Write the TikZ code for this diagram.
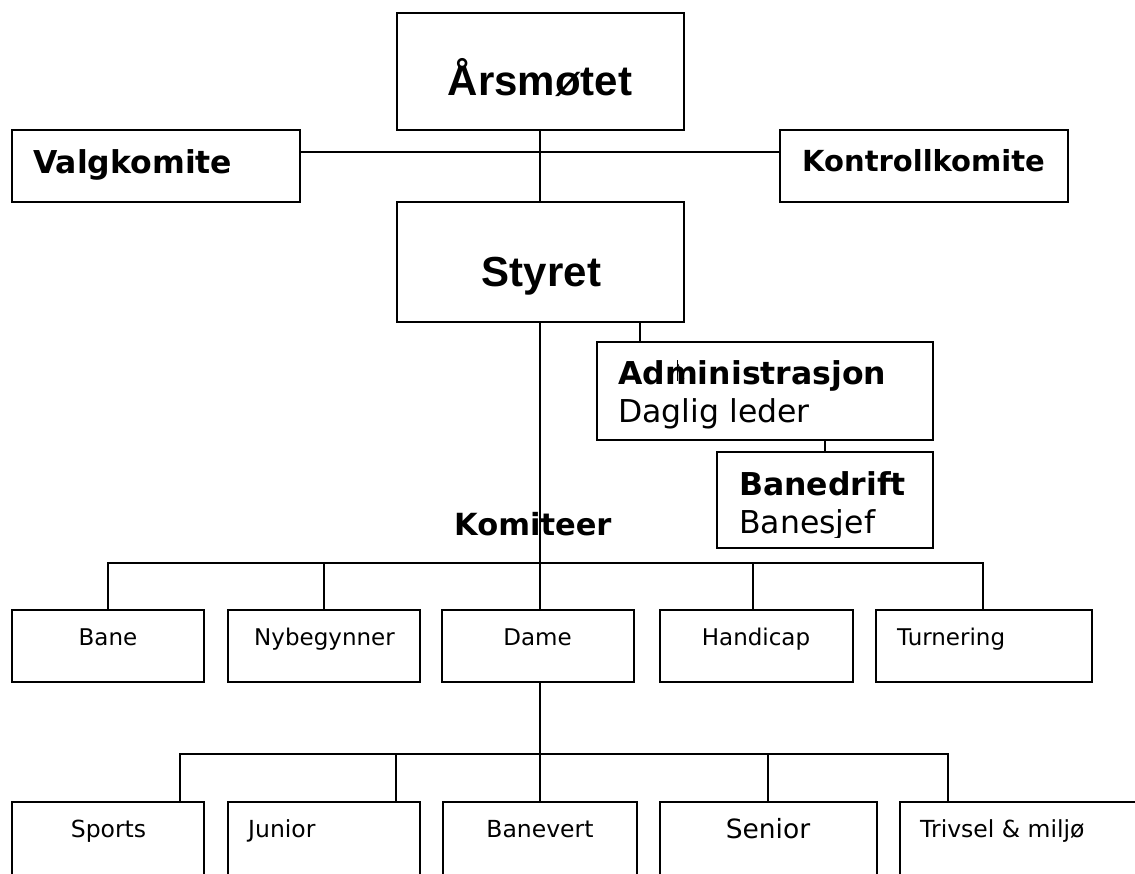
\documentclass[tikz,border=0pt]{standalone}
\usepackage{fontspec}
\setmainfont{DejaVu Sans}
\newfontfamily\arialfont{Liberation Sans}
\begin{document}
\begin{tikzpicture}[x=1pt,y=-1pt,
  box/.style={draw, line width=1.5pt, inner sep=0pt, outer sep=0pt},
  conn/.style={line width=1.2pt},
  big/.style={font=\arialfont\bfseries\fontsize{42}{50}\selectfont, inner sep=0pt},
  head/.style={font=\bfseries\fontsize{31.5}{38}\selectfont, inner sep=0pt},
  sub/.style={font=\fontsize{31.5}{38}\selectfont, inner sep=0pt},
  lab/.style={font=\fontsize{23}{28}\selectfont, inner sep=0pt},
  labb/.style={font=\fontsize{23.5}{28}\selectfont, inner sep=0pt}]
\clip (0,0) rectangle (1135,873);
\fill[white] (0,0) rectangle (1135,873);

% boxes
\node[box, minimum width=287pt, minimum height=117pt] (aars) at (540.5,71.5) {};
\node[box, minimum width=288pt, minimum height=72pt] (valg) at (156,166) {};
\node[box, minimum width=288pt, minimum height=72pt] (kontroll) at (924,166) {};
\node[box, minimum width=287pt, minimum height=120pt] (styret) at (540.5,262) {};
\node[box, minimum width=336pt, minimum height=98pt] (admin) at (765,391) {};
\node[box, minimum width=216pt, minimum height=96pt] (banedrift) at (825,500) {};
\node[box, minimum width=192pt, minimum height=72pt] (bane) at (108,646) {};
\node[box, minimum width=192pt, minimum height=72pt] (nyb) at (324,646) {};
\node[box, minimum width=192pt, minimum height=72pt] (dame) at (538,646) {};
\node[box, minimum width=193pt, minimum height=72pt] (handicap) at (756.5,646) {};
\node[box, minimum width=216pt, minimum height=72pt] (turn) at (984,646) {};
\node[box, minimum width=192pt, minimum height=120pt] (sports) at (108,862) {};
\node[box, minimum width=192pt, minimum height=120pt] (junior) at (324,862) {};
\node[box, minimum width=194pt, minimum height=120pt] (banevert) at (540,862) {};
\node[box, minimum width=217pt, minimum height=120pt] (senior) at (768.5,862) {};
\node[box, minimum width=260pt, minimum height=120pt] (trivsel) at (1030,862) {};

% texts
\node[big, anchor=base] (taars) at (540,95) {Årsmøtet};
\node[big, anchor=base] (tstyret) at (541.5,286) {Styret};
\node[head, anchor=base west] (tvalg) at (33,173) {Valgkomite};
\node[head, anchor=base west, font=\bfseries\fontsize{29}{35}\selectfont] (tkontroll) at (802,171) {Kontrollkomite};
\node[head, anchor=base west] (tadmin) at (618,384) {Administrasjon};
\node[sub, anchor=base west] (tdaglig) at (618,422) {Daglig leder};
\node[head, anchor=base west] (tbanedrift) at (739,495) {Banedrift};
\begin{scope}
  \clip (717,452) rectangle (933,537);
  \node[sub, anchor=base west] (tbanesjef) at (739,533) {Banesjef};
\end{scope}
\node[head, anchor=base west, font=\bfseries\fontsize{30.5}{36}\selectfont] (tkomiteer) at (454,535) {Komiteer};

\node[lab, anchor=base] (tbane) at (108,645) {Bane};
\node[lab, anchor=base] (tnyb) at (324.5,645) {Nybegynner};
\node[lab, anchor=base] (tdame) at (537.5,645) {Dame};
\node[lab, anchor=base] (thandicap) at (756,645) {Handicap};
\node[lab, anchor=base west] (tturn) at (897,645) {Turnering};

\node[labb, anchor=base] (tsports) at (108.5,837) {Sports};
\node[labb, anchor=base west] (tjunior) at (248,837) {Junior};
\node[labb, anchor=base] (tbanevert) at (540,837) {Banevert};
\node[labb, anchor=base, font=\fontsize{26.5}{32}\selectfont] (tsenior) at (768,838) {Senior};
\node[labb, anchor=base west] (ttrivsel) at (920,837) {Trivsel \& miljø};

% stray mark near "Adm"
\draw[line width=0.8pt] (677,360) -- (677,381);
\draw[line width=0.8pt] (678,364) -- (684,379);

% connector coordinates
\coordinate (hbar) at (540,152);
\coordinate (kbar) at (540,563);
\coordinate (dbar) at (540,754);
\coordinate (adm) at (640,332);
\coordinate (k4) at (753,563);
\coordinate (k5) at (983,563);
\coordinate (d1) at (180,754);
\coordinate (d2) at (396,754);
\coordinate (d4) at (768,754);
\coordinate (d5) at (948,754);

% connectors
\draw[conn] (aars.south -| hbar) -- (styret.north -| hbar);
\draw[conn] (valg.east |- hbar) -- (kontroll.west |- hbar);
\draw[conn] (styret.south -| hbar) -- (dame.north -| hbar);
\draw[conn] (styret.south -| adm) -- (admin.north -| adm);
\draw[conn] (admin.south -| banedrift.north) -- (banedrift.north);
\draw[conn] (bane.north) -- (bane.north |- kbar) -- (k5) -- (turn.north -| k5);
\draw[conn] (nyb.north) -- (nyb.north |- kbar);
\draw[conn] (handicap.north -| k4) -- (k4);
\draw[conn] (dame.south -| dbar) -- (banevert.north -| dbar);
\draw[conn] (sports.north -| d1) -- (d1) -- (d5) -- (trivsel.north -| d5);
\draw[conn] (junior.north -| d2) -- (d2);
\draw[conn] (senior.north -| d4) -- (d4);
\end{tikzpicture}
\end{document}
